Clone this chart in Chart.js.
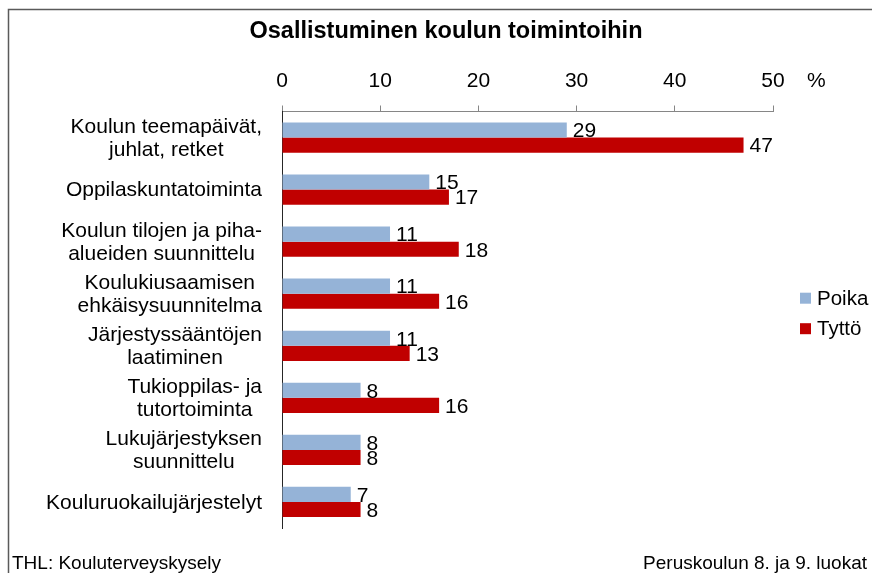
<!DOCTYPE html>
<html>
<head>
<meta charset="utf-8">
<script src="https://cdn.jsdelivr.net/npm/chart.js@4/dist/chart.umd.min.js"></script>
<style>
  html, body { margin: 0; padding: 0; background: #fff; }
  #wrap { width: 872px; height: 573px; }
</style>
</head>
<body>
<div id="wrap"><canvas id="myChart" width="872" height="573"></canvas></div>
<script>
const categories = [
  ['Koulun teemapäivät,', 'juhlat, retket'],
  ['Oppilaskuntatoiminta'],
  ['Koulun tilojen ja piha-', 'alueiden suunnittelu'],
  ['Koulukiusaamisen', 'ehkäisysuunnitelma'],
  ['Järjestyssääntöjen', 'laatiminen'],
  ['Tukioppilas- ja', 'tutortoiminta'],
  ['Lukujärjestyksen', 'suunnittelu'],
  ['Kouluruokailujärjestelyt']
];
const poika = [29, 15, 11, 11, 11, 8, 8, 7];
const tytto = [47, 17, 18, 16, 13, 16, 8, 8];
const xTicks = [0, 10, 20, 30, 40, 50];

const FONT = "'Liberation Sans', Arial, sans-serif";

// frame, category labels, value labels, legend, footer
const extras = {
  id: 'extras',
  beforeDraw(chart) {
    const ctx = chart.ctx;
    ctx.save();
    ctx.strokeStyle = '#5a5a5a';
    ctx.lineWidth = 1.5;
    ctx.beginPath();
    ctx.moveTo(8.5, 573);
    ctx.lineTo(8.5, 9.5);
    ctx.lineTo(872, 9.5);
    ctx.stroke();
    ctx.restore();
  },
  afterDraw(chart) {
    const ctx = chart.ctx;
    const y = chart.scales.y;
    ctx.save();
    ctx.fillStyle = '#000';
    ctx.font = '21px ' + FONT;
    ctx.textBaseline = 'middle';

    // category labels: block right aligned, lines centred
    const right = chart.chartArea.left - 20;
    categories.forEach((lines, i) => {
      const py = y.getPixelForTick(i);
      const w = Math.max(...lines.map(l => ctx.measureText(l).width));
      const cx = right - w / 2;
      const lh = 23;
      ctx.textAlign = 'center';
      lines.forEach((l, k) => {
        ctx.fillText(l, cx, py + 1 + (k - (lines.length - 1) / 2) * lh);
      });
    });

    // value labels
    ctx.textAlign = 'left';
    chart.data.datasets.forEach((ds, di) => {
      const meta = chart.getDatasetMeta(di);
      meta.data.forEach((bar, i) => {
        ctx.fillText(String(ds.data[i]), bar.x + 6, bar.y + 1.5);
      });
    });

    // percent sign next to the axis
    ctx.fillText('%', chart.chartArea.right + 34, 81);

    // legend
    ctx.font = '20.5px ' + FONT;
    const ly = [298.2, 328.7];
    chart.data.datasets.forEach((ds, di) => {
      ctx.fillStyle = ds.backgroundColor;
      ctx.fillRect(800, ly[di] - 5.5, 11, 11);
      ctx.fillStyle = '#000';
      ctx.fillText(ds.label, 817, ly[di] + 1);
    });

    // footer
    ctx.font = '19px ' + FONT;
    ctx.textBaseline = 'alphabetic';
    ctx.textAlign = 'left';
    ctx.fillText('THL: Kouluterveyskysely', 12, 569);
    ctx.textAlign = 'right';
    ctx.fillText('Peruskoulun 8. ja 9. luokat', 867, 569);
    ctx.restore();
  }
};

const data = {
  labels: categories,
  datasets: [{
    label: 'Poika',
    backgroundColor: '#95B3D7',
    data: poika
  }, {
    label: 'Tyttö',
    backgroundColor: '#C00000',
    data: tytto
  }]
};

const config = {
  type: 'bar',
  data: data,
  options: {
    indexAxis: 'y',
    responsive: false,
    animation: false,
    layout: { padding: { left: 20, right: 0, top: 0, bottom: 45 } },
    datasets: {
      bar: { categoryPercentage: 0.58, barPercentage: 1.0, borderWidth: 0 }
    },
    plugins: {
      legend: { display: false },
      tooltip: { enabled: false },
      title: {
        display: true,
        text: 'Osallistuminen koulun toimintoihin',
        color: '#000',
        font: { family: FONT, size: 23.5, weight: 'bold' },
        padding: { top: 17, bottom: 0 }
      }
    },
    scales: {
      x: {
        position: 'top',
        min: 0,
        max: 50,
        afterBuildTicks(s) { s.ticks = xTicks.map(v => ({ value: v })); },
        afterFit(s) { s.height = 66.3; },
        grid: { drawOnChartArea: false, tickLength: 6, color: '#868686' },
        border: { display: true, color: '#868686', width: 1 },
        ticks: { color: '#000', padding: 12, font: { family: FONT, size: 21 } }
      },
      y: {
        position: 'left',
        afterFit(s) { s.width = 262; },
        grid: { display: false },
        border: { display: true, color: '#262626', width: 1 },
        ticks: { display: false }
      },
      spacer: {
        type: 'linear',
        position: 'right',
        afterFit(s) { s.width = 99; },
        grid: { display: false },
        border: { display: false },
        ticks: { display: false }
      }
    }
  },
  plugins: [extras]
};

const myChart = new Chart(document.getElementById('myChart'), config);
</script>
</body>
</html>
